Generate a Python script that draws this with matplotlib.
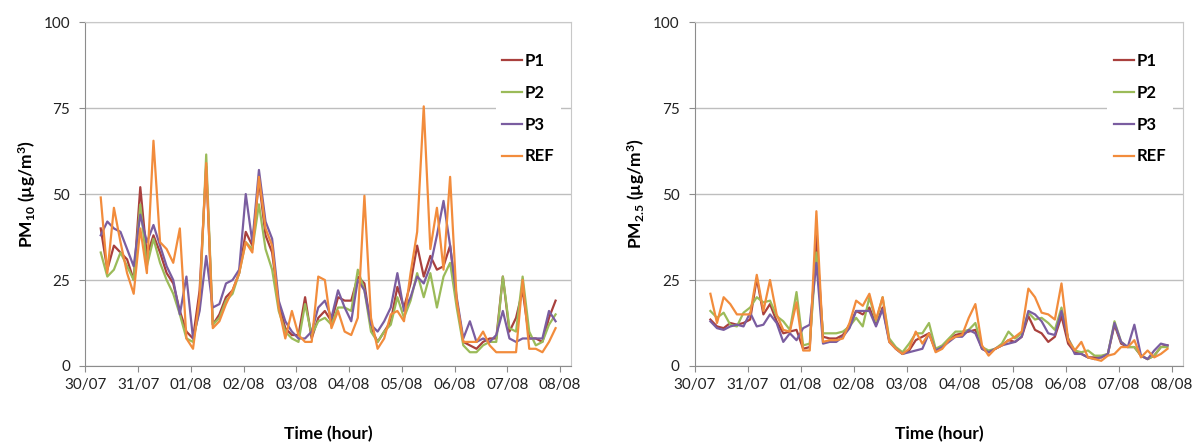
import matplotlib
matplotlib.use("Agg")
import matplotlib.pyplot as plt

# time axis: hours since 30/07 00:00, one reading every 3 h
hours = list(range(7, 215, 3))
day_labels = ["30/07", "31/07", "01/08", "02/08", "03/08",
              "04/08", "05/08", "06/08", "07/08", "08/08"]
series_names = ["P1", "P2", "P3", "REF"]

# PM10 (ug/m3)
pm10_p1 = [40, 28, 35, 33, 31, 25, 52, 32, 38, 33,
           27, 24, 16, 10, 8, 22, 58, 12, 15, 20,
           22, 27, 39, 35, 54, 38, 33, 18, 11, 9,
           9, 20, 8, 14, 16, 13, 20, 19, 19, 26,
           24, 11, 7, 10, 13, 23, 17, 24, 35, 26,
           32, 28, 29, 35, 19, 7, 6, 5, 7, 8,
           8, 26, 10, 14, 22, 8, 8, 7, 14, 19]
pm10_p2 = [33, 26, 28, 33, 29, 25, 47, 29, 37, 30,
           25, 21, 15, 8, 7, 17, 61.5, 12, 14, 19,
           21, 27, 36, 34, 47, 34, 28, 16, 10, 8,
           7, 18, 9, 13, 14, 12, 17, 17, 16, 28,
           22, 10, 7, 10, 12, 20, 14, 19, 27, 20,
           27, 17, 26, 30, 17, 6, 4, 4, 6, 7,
           7, 26, 11, 10, 26, 10, 6, 7, 12, 15]
pm10_p3 = [38, 42, 40, 39, 34, 29, 44, 36, 41, 35,
           29, 25, 15, 26, 8, 16, 32, 17, 18, 24,
           25, 28, 50, 36, 57, 42, 37, 19, 13, 10,
           8, 8, 10, 17, 19, 14, 22, 17, 13, 25,
           22, 12, 10, 13, 17, 27, 16, 20, 26, 24,
           29, 38, 48, 35, 20, 8, 13, 7, 8, 7,
           9, 16, 8, 7, 8, 8, 8, 8, 16, 13]
pm10_ref = [49, 27, 46, 36, 27, 21, 40, 27, 65.5, 36,
            34, 30, 40, 8, 5, 20, 59, 11, 13, 18,
            22, 27, 36, 33, 55, 40, 35, 17, 8, 16,
            9, 7, 7, 26, 25, 11, 16, 10, 9, 14,
            49.5, 14, 5, 8, 15, 16, 13, 27, 39, 75.5,
            34, 46, 28, 55, 19, 7, 7, 7, 10, 6,
            4, 4, 4, 4, 25, 5, 5, 4, 7, 11]

# PM2.5 (ug/m3)
pm25_p1 = [13.5, 11.5, 11, 12.5, 12, 12.5, 13.5, 25.5, 15, 18,
           13, 9.5, 10, 10.5, 5, 5.5, 38, 8.5, 8, 8,
           9, 12, 16, 15, 17, 12, 17, 7.5, 5, 3.5,
           4.5, 7.5, 8.5, 9.5, 4.5, 5.5, 7.5, 9, 9.5, 10,
           10.5, 5, 4, 5, 6, 7.5, 7, 8.5, 14.5, 10.5,
           9.5, 7, 8.5, 14.5, 6.5, 4, 3.5, 2.5, 2.5, 2.5,
           3.5, 12, 6.5, 5.5, 5.5, 3, 2, 3, 5.5, 6]
pm25_p2 = [16, 14, 15.5, 12, 11.5, 15.5, 17, 20, 18.5, 19,
           14.5, 13, 10.5, 21.5, 6, 6.5, 33, 9.5, 9.5, 9.5,
           10, 11.5, 14, 11.5, 20, 13, 20, 8, 5.5, 4,
           6.5, 9.5, 9.5, 12.5, 5, 6, 8, 10, 10, 10.5,
           12.5, 5.5, 4.5, 5, 6.5, 10, 8, 9.5, 15.5, 13.5,
           14, 12.5, 10.5, 17, 8, 4.5, 4, 4.5, 3, 3,
           3.5, 13, 7, 5.5, 5.5, 3, 2, 3, 5.5, 5.5]
pm25_p3 = [13, 11, 10.5, 11.5, 12, 11.5, 15.5, 11.5, 12, 15,
           12.5, 7, 9.5, 7.5, 11, 12, 30, 6.5, 7, 7,
           8.5, 11, 16, 16, 16, 11.5, 16.5, 7, 5, 3.5,
           4, 4.5, 5, 9.5, 4.5, 5.5, 7, 8.5, 8.5, 10.5,
           9.5, 5, 4, 5, 6, 6.5, 7, 8.5, 16, 15,
           13, 9.5, 9, 16, 8, 3.5, 3.5, 2.5, 2, 2.5,
           3.5, 12.5, 7, 5.5, 12, 3, 2, 4.5, 6.5, 6]
pm25_ref = [21, 12.5, 20, 18, 15, 15, 15, 26.5, 16, 25,
            15, 10.5, 10, 18.5, 4.5, 4.5, 45, 7, 7.5, 7.5,
            8, 12.5, 19, 17.5, 21, 13.5, 20, 7, 5, 3.5,
            5, 10, 6.5, 9.5, 4, 5, 7.5, 8.5, 9, 14,
            18, 6, 3, 5, 6, 7.5, 8.5, 10, 22.5, 20,
            15.5, 15, 13.5, 24, 7.5, 4.5, 7, 2.5, 2, 1.5,
            3, 3.5, 5.5, 5.5, 7.5, 2.5, 4.5, 2.5, 3.5, 5]

colors = ["#A9403D", "#9BBB59", "#7A5DA0", "#F28C3C"]

plt.rcParams["font.family"] = ["Lato", "DejaVu Sans"]
plt.rcParams["mathtext.fontset"] = "custom"
plt.rcParams["mathtext.rm"] = "Lato"
plt.rcParams["mathtext.bf"] = "Lato:bold"
plt.rcParams["mathtext.default"] = "bf"


def draw_panel(ax, data, ylabel):
    for values, name, color in zip(data, series_names, colors):
        ax.plot(hours, values, color=color, lw=1.6, label=name, zorder=3)
    ax.set_xlim(0, 221)
    ax.set_ylim(0, 100)
    ax.set_xticks(range(0, 217, 24))
    ax.set_xticklabels(day_labels)
    ax.set_yticks([0, 25, 50, 75, 100])
    ax.grid(axis="y", color="#BEBEBE", lw=1)
    ax.set_axisbelow(True)
    for side in ["left", "bottom"]:
        ax.spines[side].set_color("#8C8C8C")
    for side in ["top", "right"]:
        ax.spines[side].set_color("#C8C8C8")
    ax.tick_params(axis="both", direction="out", length=4, color="#8C8C8C",
                   labelsize=11, labelcolor="#222222")
    ax.tick_params(axis="y", pad=7)
    ax.tick_params(axis="x", pad=5)
    ax.set_xlabel("Time (hour)", fontsize=12.5, fontweight="bold", labelpad=24)
    ax.set_ylabel(ylabel, fontsize=12.5, fontweight="bold", labelpad=4)
    leg = ax.legend(loc="upper left", bbox_to_anchor=(0.845, 0.93),
                    frameon=True, facecolor="white", edgecolor="none",
                    fancybox=False, framealpha=1, handlelength=1.2,
                    handletextpad=0.15, labelspacing=0.95, borderpad=0.4,
                    borderaxespad=0, prop={"weight": "bold", "size": 12})
    leg.set_zorder(5)


fig = plt.figure(figsize=(11.92, 4.42), dpi=100)
ax1 = fig.add_axes([0.0716, 0.172, 0.4074, 0.778])
ax2 = fig.add_axes([0.583, 0.172, 0.4094, 0.778])

draw_panel(ax1, [pm10_p1, pm10_p2, pm10_p3, pm10_ref], "PM$_{10}$ (µg/m$^3$)")
draw_panel(ax2, [pm25_p1, pm25_p2, pm25_p3, pm25_ref], "PM$_{2.5}$ (µg/m$^3$)")

fig.savefig("out.png", dpi=100)
